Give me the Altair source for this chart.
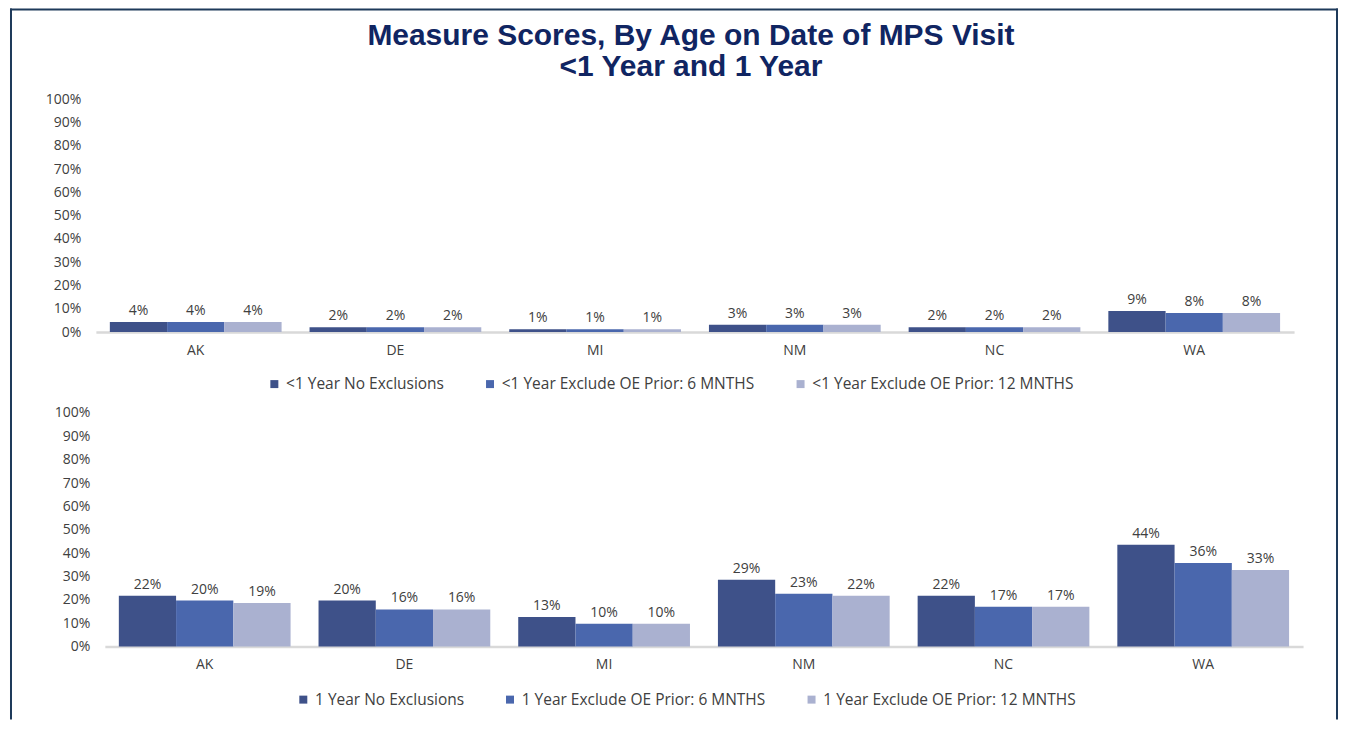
import altair as alt
import pandas as pd

FONT = "Open Sans"
TXT = "#404040"

states = ["AK", "DE", "MI", "NM", "NC", "WA"]

top_series = ["<1 Year No Exclusions",
              "<1 Year Exclude OE Prior: 6 MNTHS",
              "<1 Year Exclude OE Prior: 12 MNTHS"]
top_no_excl = [0.043, 0.021, 0.012, 0.031, 0.021, 0.090]
top_excl_6 = [0.043, 0.021, 0.012, 0.031, 0.021, 0.082]
top_excl_12 = [0.043, 0.021, 0.012, 0.031, 0.021, 0.082]

bot_series = ["1 Year No Exclusions",
              "1 Year Exclude OE Prior: 6 MNTHS",
              "1 Year Exclude OE Prior: 12 MNTHS"]
bot_no_excl = [0.218, 0.197, 0.127, 0.286, 0.218, 0.436]
bot_excl_6 = [0.197, 0.159, 0.098, 0.226, 0.170, 0.358]
bot_excl_12 = [0.187, 0.159, 0.098, 0.218, 0.170, 0.328]

y_ticks = [0, 0.1, 0.2, 0.3, 0.4, 0.5, 0.6, 0.7, 0.8, 0.9, 1.0]
colors = ["#3E5189", "#4A67AD", "#AAB1D0"]
title_lines = ["Measure Scores, By Age on Date of MPS Visit", "<1 Year and 1 Year"]


def long_df(series, cols):
    rows = []
    for s, vals in zip(series, cols):
        for st, v in zip(states, vals):
            rows.append({"state": st, "series": s, "value": v})
    return pd.DataFrame(rows)


def panel(df, series, x_range, y_offset, legend_x, legend_y):
    x = alt.X("state:N", sort=states, title=None,
              scale=alt.Scale(paddingInner=0.14, paddingOuter=0.07, range=x_range),
              axis=alt.Axis(labelAngle=0, labelFontSize=14, labelFont=FONT,
                            labelColor=TXT, labelPadding=11, domainColor="#D9D9D9",
                            domainWidth=2.5, ticks=False))
    y = alt.Y("value:Q", title=None,
              scale=alt.Scale(domain=[0, 1]),
              axis=alt.Axis(format=".0%", values=y_ticks, grid=False, domain=False,
                            ticks=False, tickSize=0, labelPadding=15, offset=y_offset,
                            labelFontSize=14, labelFont=FONT, labelColor=TXT))
    xo = alt.XOffset("series:N", sort=series,
                     scale=alt.Scale(paddingInner=0, paddingOuter=0))
    bars = alt.Chart(df).mark_bar().encode(
        x=x, y=y, xOffset=xo,
        color=alt.Color("series:N", sort=series,
                        scale=alt.Scale(domain=series, range=colors),
                        legend=alt.Legend(orient="none", legendX=legend_x, legendY=legend_y,
                                          direction="horizontal", title=None,
                                          symbolType="square", symbolSize=64,
                                          symbolStrokeWidth=0, labelFontSize=15.5,
                                          labelFont=FONT, labelColor=TXT, labelLimit=500,
                                          labelOffset=4, columnPadding=38)),
    )
    labels = alt.Chart(df).mark_text(baseline="bottom", dy=-4, fontSize=14,
                                     font=FONT, color=TXT).encode(
        x=x, y=y, xOffset=xo,
        text=alt.Text("value:Q", format=".0%"),
    )
    return bars, labels


one = pd.DataFrame({"k": [0]})
FRAME = "#1E3A5A"

top_bars, top_labels = panel(long_df(top_series, [top_no_excl, top_excl_6, top_excl_12]),
                             top_series, [0, 1200], 0, 171, 277)

frame_left = alt.Chart(one).mark_rule(color=FRAME, strokeWidth=2).encode(
    x=alt.value(-85), y=alt.value(-91), y2=alt.value(621))
frame_top = alt.Chart(one).mark_rule(color=FRAME, strokeWidth=2).encode(
    x=alt.value(-86), x2=alt.value(1244), y=alt.value(-90))
frame_right = alt.Chart(one).mark_rule(color=FRAME, strokeWidth=2).encode(
    x=alt.value(1243), y=alt.value(-91), y2=alt.value(621))

title1 = alt.Chart(one).mark_text(font="Liberation Sans", fontWeight="bold", fontSize=30,
                                  color="#102562", align="center", baseline="middle").encode(
    x=alt.value(596), y=alt.value(-63), text=alt.value(title_lines[0]))
title2 = alt.Chart(one).mark_text(font="Liberation Sans", fontWeight="bold", fontSize=30,
                                  color="#102562", align="center", baseline="middle").encode(
    x=alt.value(596), y=alt.value(-32), text=alt.value(title_lines[1]))

top = alt.layer(top_bars, top_labels, frame_left, frame_top, frame_right,
                title1, title2).properties(width=1200, height=233)

bot_bars, bot_labels = panel(long_df(bot_series, [bot_no_excl, bot_excl_6, bot_excl_12]),
                             bot_series, [9, 1209], -9, 200, 279)
bottom = alt.layer(bot_bars, bot_labels).properties(width=1209, height=234)

chart = alt.vconcat(top, bottom, spacing=81, bounds="flush").resolve_scale(
    color="independent", x="independent", y="independent", xOffset="independent"
).properties(
    padding={"left": 1, "top": -1, "right": 0, "bottom": 0}
).configure(font=FONT).configure_view(strokeWidth=0, stroke=None)

chart.save("out.html", embed_options={"renderer": "svg", "actions": False})
